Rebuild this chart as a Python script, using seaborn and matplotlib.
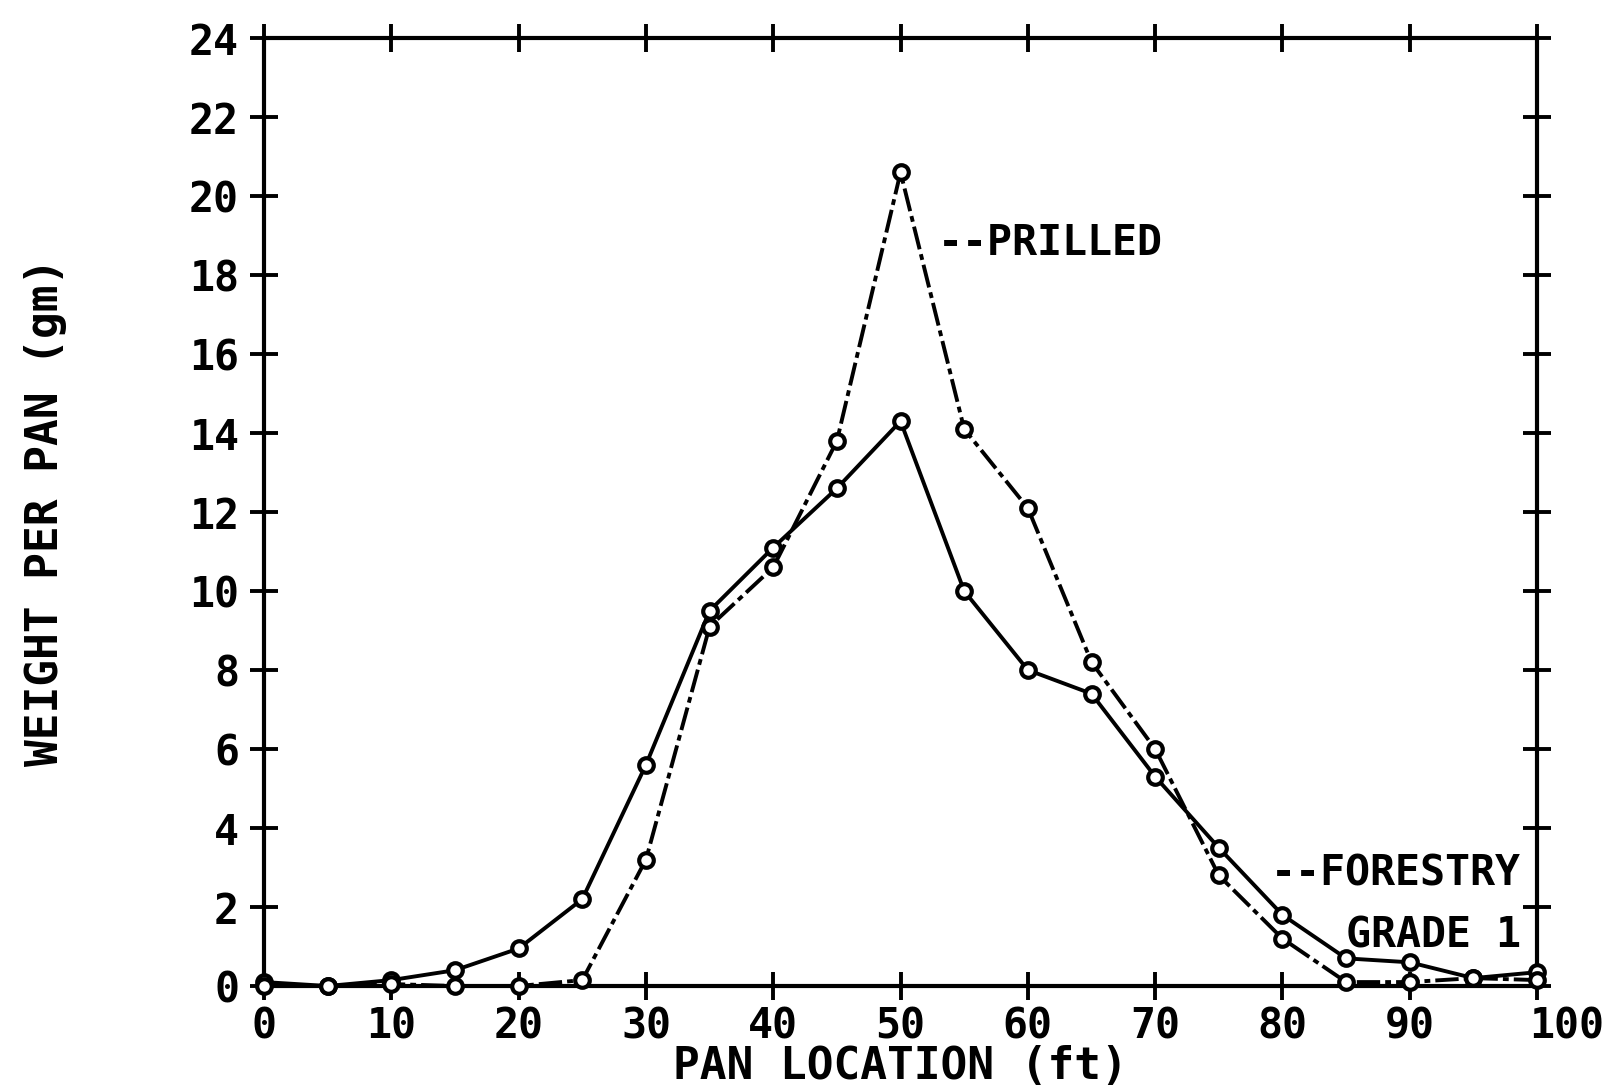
import matplotlib
matplotlib.use("Agg")
import matplotlib.pyplot as plt
import matplotlib.transforms as mtransforms
import seaborn as sns
import pandas as pd

# ---- data ----
pan_location = [0, 5, 10, 15, 20, 25, 30, 35, 40, 45, 50,
                55, 60, 65, 70, 75, 80, 85, 90, 95, 100]
forestry_grade1 = [0.1, 0.0, 0.15, 0.4, 0.95, 2.2, 5.6, 9.5, 11.1, 12.6, 14.3,
                   10.0, 8.0, 7.4, 5.3, 3.5, 1.8, 0.7, 0.6, 0.2, 0.35]
prilled = [0.0, 0.0, 0.05, 0.0, 0.0, 0.15, 3.2, 9.1, 10.6, 13.8, 20.6,
           14.1, 12.1, 8.2, 6.0, 2.8, 1.2, 0.1, 0.1, 0.2, 0.15]
x_ticks = [0, 10, 20, 30, 40, 50, 60, 70, 80, 90, 100]
y_ticks = [0, 2, 4, 6, 8, 10, 12, 14, 16, 18, 20, 22, 24]

df = pd.concat([
    pd.DataFrame({"loc": pan_location, "w": forestry_grade1, "series": "FORESTRY GRADE 1"}),
    pd.DataFrame({"loc": pan_location, "w": prilled, "series": "PRILLED"}),
])

sns.set_style("ticks")
plt.rcParams["font.family"] = ["DejaVu Sans Mono"]
plt.rcParams["font.weight"] = "bold"
plt.rcParams["axes.labelweight"] = "bold"
for k in ["text.color", "axes.labelcolor", "xtick.color", "ytick.color", "axes.edgecolor"]:
    plt.rcParams[k] = "black"

fig = plt.figure(figsize=(16.1, 10.9), dpi=100)
ax = fig.add_axes([0.164, 0.0954, 0.7907, 0.8697])

sns.lineplot(data=df, x="loc", y="w", style="series",
             dashes={"FORESTRY GRADE 1": "", "PRILLED": (6, 1.3, 1.5, 1.3)},
             markers={"FORESTRY GRADE 1": "o", "PRILLED": "o"},
             color="black", linewidth=2.8, markersize=10.5,
             markerfacecolor="white", markeredgecolor="black", markeredgewidth=3.0,
             legend=False, ax=ax, clip_on=False, zorder=3)

ax.set_xlim(0, 100)
ax.set_ylim(0, 24)
ax.set_xticks(x_ticks)
ax.set_yticks(y_ticks)
ax.tick_params(axis="both", which="both", direction="inout", length=20, width=2.8,
               top=True, right=True, labelsize=30, color="black")
ax.tick_params(axis="x", pad=4)
ax.tick_params(axis="y", pad=8)
for s in ax.spines.values():
    s.set_visible(True)
    s.set_linewidth(3.0)
    s.set_color("black")

# the plotter placed its last x label a little to the right
last = ax.get_xticklabels()[-1]
last.set_transform(last.get_transform() + mtransforms.ScaledTranslation(0.3, 0, fig.dpi_scale_trans))

ax.set_xlabel("PAN LOCATION (ft)", fontsize=32, fontweight="bold", labelpad=-2)
ax.set_ylabel("WEIGHT PER PAN (gm)", fontsize=32, fontweight="bold", labelpad=88)

ax.text(52.9, 18.8, "--PRILLED", fontsize=30, ha="left", va="center")
ax.text(98.7, 2.84, "--FORESTRY", fontsize=30, ha="right", va="center")
ax.text(98.7, 1.29, "GRADE 1", fontsize=30, ha="right", va="center")

fig.savefig("out.png", dpi=100, facecolor="white")
